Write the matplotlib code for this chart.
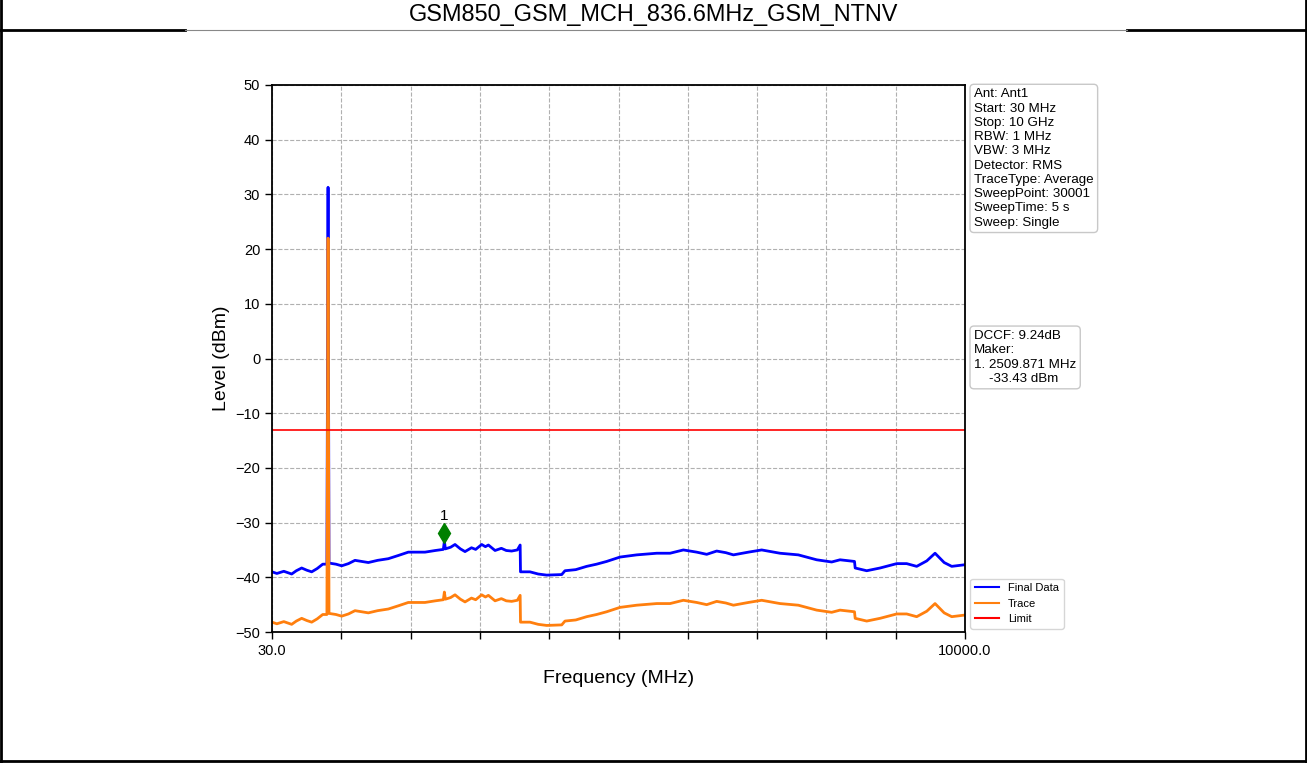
import matplotlib
matplotlib.use("Agg")
import matplotlib.pyplot as plt
from matplotlib.lines import Line2D
import numpy as np

plt.rcParams["font.family"] = ["Liberation Sans", "DejaVu Sans"]

title = "GSM850_GSM_MCH_836.6MHz_GSM_NTNV"

# frequency points (MHz)
freq_mhz = [
    30, 100, 200, 313, 380, 457, 530, 601, 680, 760,
    820, 836.6, 850, 950, 1033, 1130, 1224, 1320, 1416, 1550,
    1703, 1850, 1991, 2100, 2231, 2380, 2495, 2509.871, 2525, 2600,
    2663, 2740, 2807, 2900, 2960, 3047, 3100, 3143, 3239, 3330,
    3400, 3478, 3560, 3600, 3605, 3741, 3860, 3982, 4198, 4245,
    4400, 4557, 4700, 4845, 5037, 5277, 5565, 5757, 5948, 6140,
    6284, 6428, 6560, 6668, 6884, 7075, 7338, 7602, 7866, 8082,
    8202, 8410, 8420, 8586, 8778, 9018, 9161, 9305, 9450, 9569,
    9700, 9809, 10000,
]

final_dbm = [
    -39.0, -39.3, -38.9, -39.4, -38.8, -38.3, -38.7, -39.0, -38.4, -37.6,
    -37.6, 31.3, -37.4, -37.6, -37.9, -37.5, -36.9, -37.1, -37.3, -36.9,
    -36.6, -36.0, -35.4, -35.4, -35.4, -35.1, -34.9, -33.43, -34.8, -34.5,
    -34.0, -34.8, -35.3, -34.6, -34.9, -34.0, -34.4, -34.1, -35.1, -34.7,
    -35.1, -35.2, -35.0, -34.1, -39.0, -39.0, -39.4, -39.6, -39.5, -38.8,
    -38.6, -38.0, -37.6, -37.1, -36.3, -35.9, -35.6, -35.6, -35.0, -35.4,
    -35.8, -35.2, -35.5, -35.9, -35.4, -35.0, -35.6, -35.9, -36.8, -37.2,
    -36.8, -37.1, -38.3, -38.8, -38.3, -37.5, -37.5, -38.0, -37.0, -35.6,
    -37.3, -38.0, -37.7,
]

trace_dbm = [
    -48.2, -48.5, -48.1, -48.6, -48.0, -47.5, -47.9, -48.2, -47.6, -46.8,
    -46.8, 22.0, -46.6, -46.8, -47.1, -46.7, -46.1, -46.3, -46.5, -46.1,
    -45.8, -45.2, -44.6, -44.6, -44.6, -44.3, -44.1, -42.7, -44.0, -43.7,
    -43.2, -44.0, -44.5, -43.8, -44.1, -43.2, -43.6, -43.3, -44.3, -43.9,
    -44.3, -44.4, -44.2, -43.3, -48.2, -48.2, -48.6, -48.8, -48.7, -48.0,
    -47.8, -47.2, -46.8, -46.3, -45.5, -45.1, -44.8, -44.8, -44.2, -44.6,
    -45.0, -44.4, -44.7, -45.1, -44.6, -44.2, -44.8, -45.1, -46.0, -46.4,
    -46.0, -46.3, -47.5, -48.0, -47.5, -46.7, -46.7, -47.2, -46.2, -44.8,
    -46.5, -47.2, -46.9,
]

limit_dbm = -13
marker_freq = 2509.871
marker_level = -33.43

settings_text = (
    "Ant: Ant1\nStart: 30 MHz\nStop: 10 GHz\nRBW: 1 MHz\nVBW: 3 MHz\n"
    "Detector: RMS\nTraceType: Average\nSweepPoint: 30001\n"
    "SweepTime: 5 s\nSweep: Single"
)
marker_text = "DCCF: 9.24dB\nMaker:\n1. 2509.871 MHz\n    -33.43 dBm"

fig = plt.figure(figsize=(13.07, 7.63), dpi=100)
ax = fig.add_axes([272 / 1307, 1 - 632 / 763, 693 / 1307, 547 / 763])

ax.plot(freq_mhz, final_dbm, color="#0000ff", lw=2.0, label="Final Data")
ax.plot(freq_mhz, trace_dbm, color="#ff7f0e", lw=2.0, label="Trace")
ax.axhline(limit_dbm, color="red", lw=1.2, label="Limit")

# marker 1
ax.plot([marker_freq], [marker_level + 1.5], marker="d", color="green",
        markersize=10, linestyle="none")
ax.text(marker_freq, marker_level + 3.4, "1", ha="center", va="bottom",
        fontsize=11)

ax.set_xlim(30, 10000)
ax.set_ylim(-50, 50)
xt = np.linspace(30, 10000, 11)
ax.set_xticks(xt)
ax.set_xticklabels(["30.0"] + [""] * 9 + ["10000.0"])
ax.set_yticks(range(-50, 51, 10))
ax.tick_params(labelsize=10.5, length=5, width=1)
ax.grid(True, linestyle="--", color="#b0b0b0", lw=0.8)
for s in ax.spines.values():
    s.set_linewidth(1.3)

ax.set_xlabel("Frequency (MHz)", fontsize=14, labelpad=9)
ax.set_ylabel("Level (dBm)", fontsize=14)

box = dict(boxstyle="round,pad=0.3", fc="white", ec="#c8c8c8")
ax.text(1.013, 0.994, settings_text, transform=ax.transAxes, va="top",
        ha="left", fontsize=9.6, linespacing=1.25, bbox=box)
ax.text(1.013, 0.552, marker_text, transform=ax.transAxes, va="top",
        ha="left", fontsize=9.6, linespacing=1.25, bbox=box)

leg = ax.legend(loc="lower left", bbox_to_anchor=(1.003, 0.0), fontsize=8,
                handlelength=2.2, borderaxespad=0.3)
for ln in leg.get_lines():
    ln.set_linewidth(1.5)

# document-style frame around the figure
fig.text(0.5, 1 - 14 / 763, title, ha="center", va="center", fontsize=16.9)
yl = 1 - 30 / 763
fig.add_artist(Line2D([0, 185 / 1307], [yl, yl], color="black", lw=2))
fig.add_artist(Line2D([1127 / 1307, 1], [yl, yl], color="black", lw=2))
fig.add_artist(Line2D([185 / 1307, 1127 / 1307], [yl, yl], color="#888888", lw=0.8))
fig.add_artist(Line2D([0.001, 0.001], [0, 1], color="black", lw=2))
fig.add_artist(Line2D([0.999, 0.999], [0, 1], color="black", lw=2))
fig.add_artist(Line2D([0, 1], [0.002, 0.002], color="black", lw=2))

fig.savefig("out.png", dpi=100)
